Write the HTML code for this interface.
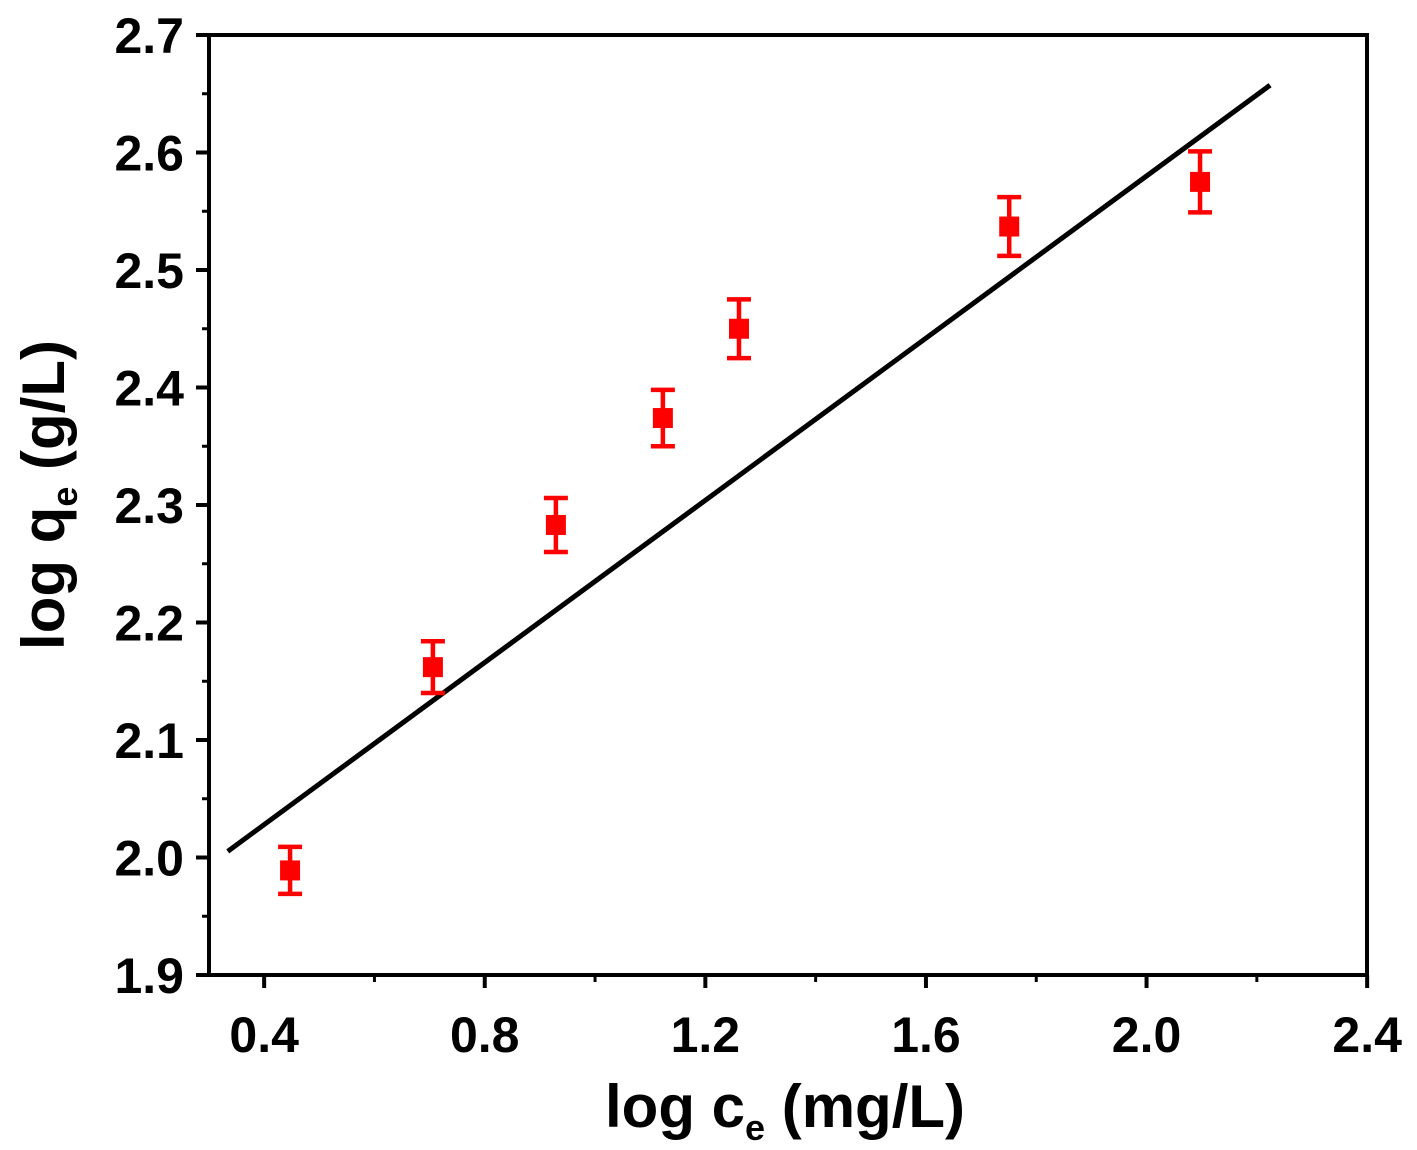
<!DOCTYPE html>
<html><head><meta charset="utf-8"><style>
body{margin:0;background:#fff;}
svg{display:block;font-family:"Liberation Sans",Arial,sans-serif;font-weight:bold;}
</style></head><body>
<svg id="chart" width="1417" height="1150" viewBox="0 0 1417 1150" xmlns="http://www.w3.org/2000/svg">
<g id="marks"></g>
<rect x="209" y="35" width="1158" height="940" fill="none" stroke="#000" stroke-width="4"/>
<g id="axes"></g>
<text x="785" y="1127" font-size="60" text-anchor="middle">log c<tspan font-size="36" dy="13">e</tspan><tspan dy="-13"> (mg/L)</tspan></text>
<text transform="translate(64,495) rotate(-90)" font-size="60" text-anchor="middle">log q<tspan font-size="36" dy="13">e</tspan><tspan dy="-13"> (g/L)</tspan></text>
</svg>
<script>
const xValues=[0.447,0.706,0.929,1.123,1.261,1.751,2.097];
const yValues=[1.989,2.162,2.283,2.374,2.450,2.537,2.575];
const yErrors=[0.020,0.022,0.023,0.024,0.025,0.025,0.026];
const fitSlope=0.345;
const fitIntercept=1.890;
const fitRange=[0.334,2.224];
const xTicks=[0.4,0.8,1.2,1.6,2.0,2.4];
const xTickLabels=["0.4","0.8","1.2","1.6","2.0","2.4"];
const yTicks=[1.9,2.0,2.1,2.2,2.3,2.4,2.5,2.6,2.7];
const yTickLabels=["1.9","2.0","2.1","2.2","2.3","2.4","2.5","2.6","2.7"];
const NS="http://www.w3.org/2000/svg";
const X=v=>209+(v-0.3)*551.5;
const Y=v=>975-(v-1.9)*1175;
function mk(t,a,p){const e=document.createElementNS(NS,t);for(const k in a)e.setAttribute(k,a[k]);p.appendChild(e);return e;}
const axes=document.getElementById('axes'),marks=document.getElementById('marks');
xTicks.forEach((v,i)=>{
 const t=mk('line',{x1:X(v),x2:X(v),y1:975,y2:988,stroke:'#000','stroke-width':4},axes);
 
 
 const m=mk('line',{x1:X(v+0.2),x2:X(v+0.2),y1:975,y2:982,stroke:'#000','stroke-width':3},axes);
 
 
 const l=mk('text',{x:X(v),y:1052,'font-size':50,'text-anchor':'middle'},axes);
 l.textContent=xTickLabels[i];
 
 
});
yTicks.forEach((v,i)=>{
 const t=mk('line',{x1:196,x2:209,y1:Y(v),y2:Y(v),stroke:'#000','stroke-width':4},axes);
 
 
 if(v<2.65){const m=mk('line',{x1:202,x2:209,y1:Y(v+0.05),y2:Y(v+0.05),stroke:'#000','stroke-width':3},axes);
 
 }
 const l=mk('text',{x:184,y:Y(v)+18,'font-size':50,'text-anchor':'end'},axes);
 l.textContent=yTickLabels[i];
 
 
});
const fit=mk('line',{x1:X(fitRange[0]),y1:Y(fitIntercept+fitSlope*fitRange[0]),x2:X(fitRange[1]),y2:Y(fitIntercept+fitSlope*fitRange[1]),stroke:'#000','stroke-width':5},marks);


xValues.forEach((xv,i)=>{
 const cx=X(xv),cy=Y(yValues[i]),e=yErrors[i];
 const g=mk('g',{stroke:'#f00','stroke-width':4.5},marks);
 
 
 mk('line',{x1:cx,x2:cx,y1:Y(yValues[i]+e),y2:Y(yValues[i]-e)},g);
 mk('line',{x1:cx-12,x2:cx+12,y1:Y(yValues[i]+e),y2:Y(yValues[i]+e)},g);
 mk('line',{x1:cx-12,x2:cx+12,y1:Y(yValues[i]-e),y2:Y(yValues[i]-e)},g);
 const r=mk('rect',{x:cx-10,y:cy-10,width:20,height:20,fill:'#f00'},marks);
 
 
});
</script>
</body></html>
